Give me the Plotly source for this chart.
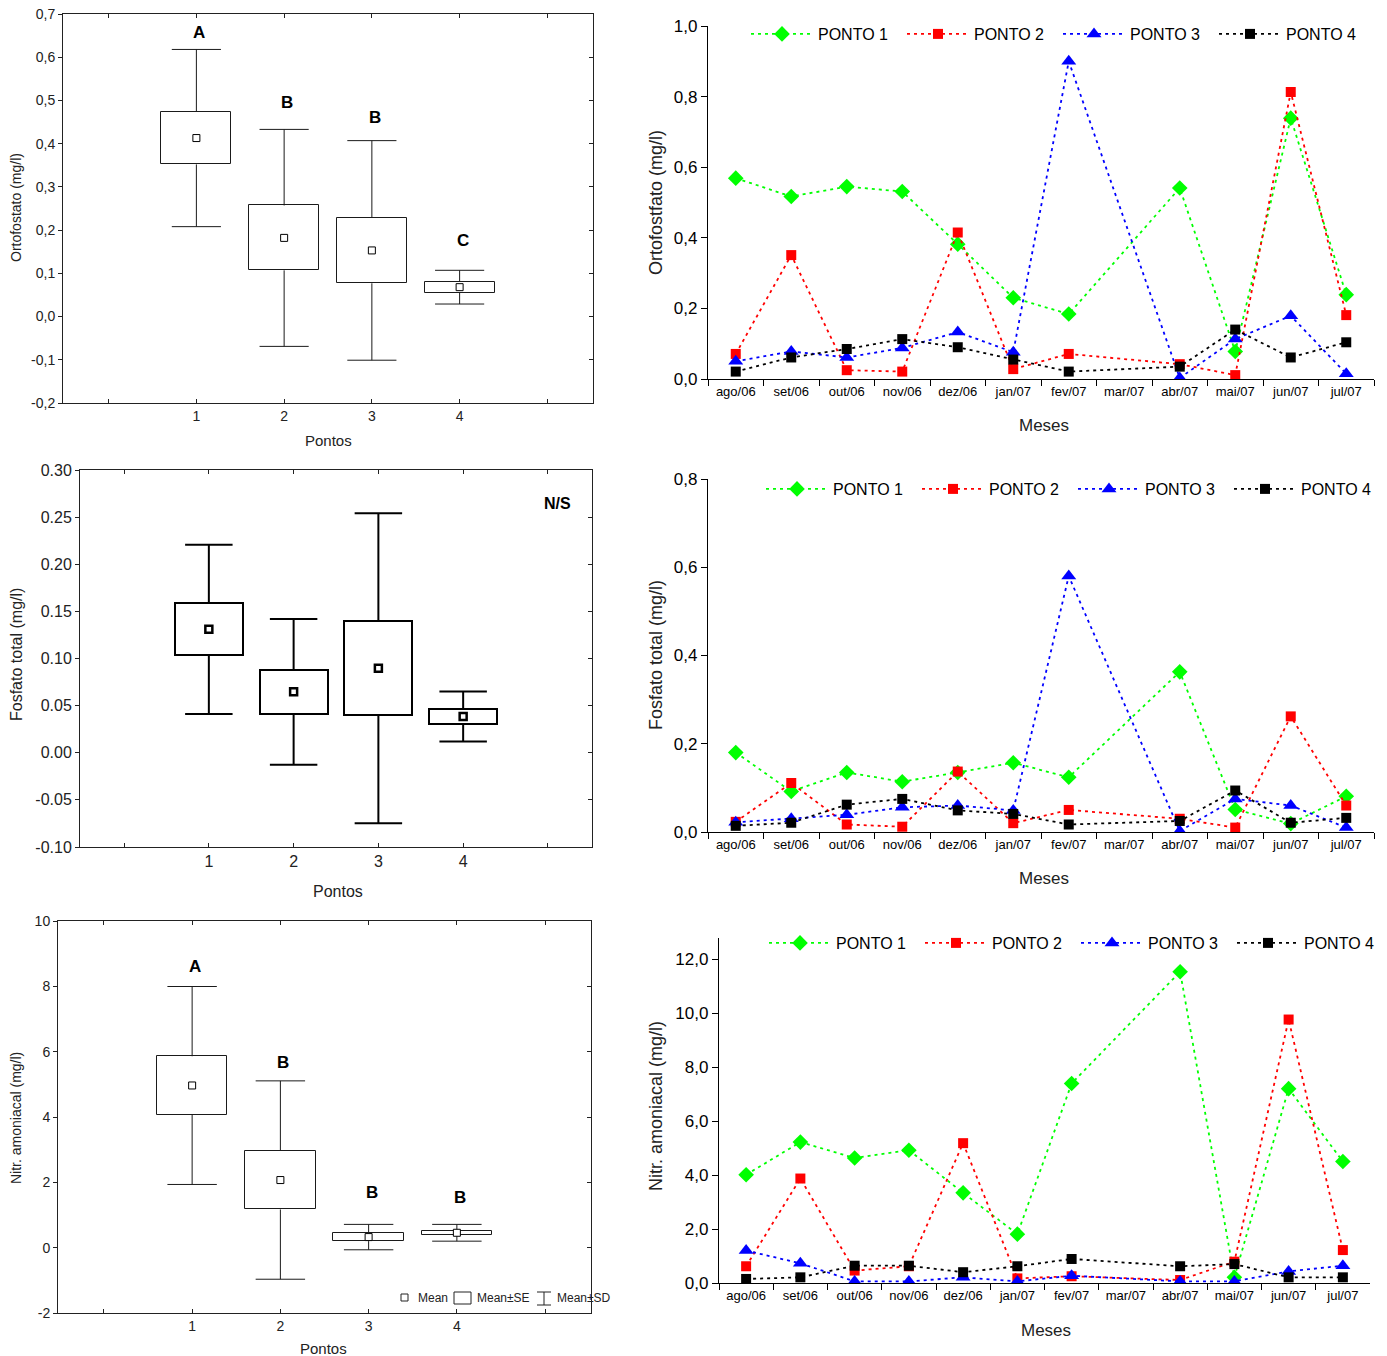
import plotly.graph_objects as go

W, H = 1387, 1356
FONT = "Liberation Sans, Arial, sans-serif"

# ---------------- data ----------------
pontos = [1, 2, 3, 4]

orto_mean = [0.413, 0.182, 0.153, 0.068]
orto_se = [0.061, 0.075, 0.076, 0.0125]
orto_sd = [0.205, 0.251, 0.254, 0.039]
orto_groups = ["A", "B", "B", "C"]

fos_mean = [0.131, 0.0647, 0.0897, 0.0385]
fos_se = [0.0275, 0.0233, 0.0497, 0.008]
fos_sd = [0.0898, 0.0773, 0.1645, 0.0266]

nit_mean = [4.965, 2.07, 0.324, 0.456]
nit_se = [0.895, 0.90, 0.124, 0.062]
nit_sd = [3.03, 3.036, 0.389, 0.257]
nit_groups = ["A", "B", "B", "B"]

meses = ["ago/06", "set/06", "out/06", "nov/06", "dez/06", "jan/07",
         "fev/07", "mar/07", "abr/07", "mai/07", "jun/07", "jul/07"]
series_names = ["PONTO 1", "PONTO 2", "PONTO 3", "PONTO 4"]

orto_p1 = [0.569, 0.517, 0.545, 0.531, 0.382, 0.230, 0.184, None, 0.541, 0.078, 0.739, 0.239]
orto_p2 = [0.071, 0.351, 0.025, 0.021, 0.415, 0.028, 0.071, None, 0.042, 0.011, 0.813, 0.181]
orto_p3 = [0.050, 0.078, 0.061, 0.088, 0.133, 0.076, 0.900, None, 0.003, 0.113, 0.179, 0.015]
orto_p4 = [0.021, 0.061, 0.085, 0.113, 0.090, 0.055, 0.021, None, 0.035, 0.140, 0.061, 0.104]

fos_p1 = [0.180, 0.092, 0.135, 0.114, 0.135, 0.157, 0.124, None, 0.363, 0.051, 0.019, 0.081]
fos_p2 = [0.023, 0.111, 0.017, 0.012, 0.137, 0.020, 0.050, None, 0.030, 0.010, 0.262, 0.060]
fos_p3 = [0.022, 0.030, 0.039, 0.056, 0.060, 0.049, 0.580, None, 0.002, 0.075, 0.060, 0.010]
fos_p4 = [0.014, 0.021, 0.062, 0.075, 0.049, 0.041, 0.017, None, 0.025, 0.094, 0.021, 0.032]

nit_p1 = [4.01, 5.22, 4.63, 4.92, 3.34, 1.81, 7.39, None, 11.53, 0.21, 7.20, 4.50]
nit_p2 = [0.62, 3.87, 0.46, 0.62, 5.18, 0.17, 0.25, None, 0.11, 0.79, 9.76, 1.22]
nit_p3 = [1.20, 0.73, 0.06, 0.06, 0.21, 0.06, 0.27, None, 0.06, 0.06, 0.43, 0.64]
nit_p4 = [0.15, 0.21, 0.64, 0.64, 0.40, 0.62, 0.89, None, 0.62, 0.70, 0.21, 0.21]

orto_yticks = [-0.2, -0.1, 0.0, 0.1, 0.2, 0.3, 0.4, 0.5, 0.6, 0.7]
orto_yticktext = ["-0,2", "-0,1", "0,0", "0,1", "0,2", "0,3", "0,4", "0,5", "0,6", "0,7"]
fos_yticks = [-0.10, -0.05, 0.0, 0.05, 0.10, 0.15, 0.20, 0.25, 0.30]
fos_yticktext = ["-0.10", "-0.05", "0.00", "0.05", "0.10", "0.15", "0.20", "0.25", "0.30"]
nit_yticks = [-2, 0, 2, 4, 6, 8, 10]
line1_yticks = [0.0, 0.2, 0.4, 0.6, 0.8, 1.0]
line1_yticktext = ["0,0", "0,2", "0,4", "0,6", "0,8", "1,0"]
line2_yticks = [0.0, 0.2, 0.4, 0.6, 0.8]
line2_yticktext = ["0,0", "0,2", "0,4", "0,6", "0,8"]
line3_yticks = [0, 2, 4, 6, 8, 10, 12]
line3_yticktext = ["0,0", "2,0", "4,0", "6,0", "8,0", "10,0", "12,0"]

# ---------------- helpers ----------------
def xdom(a, b):
    return [a / W, b / W]

def ydom(top, bottom):
    return [1 - bottom / H, 1 - top / H]

def px(x):
    return x / W

def py(y):
    return 1 - y / H

fig = go.Figure()

BOX_W = 0.8
CAP_HALF = 0.28


def add_box_panel(means, ses, sds, xa, ya, lw, mean_line, color):
    # whiskers (mean±SD) outside the SE box
    wx, wy, cx, cy = [], [], [], []
    for p, m, se, sd in zip(pontos, means, ses, sds):
        wx += [p, p, None, p, p, None]
        wy += [m + se, m + sd, None, m - se, m - sd, None]
        cx += [p - CAP_HALF, p + CAP_HALF, None, p - CAP_HALF, p + CAP_HALF, None]
        cy += [m + sd, m + sd, None, m - sd, m - sd, None]
    # mean±SE box
    fig.add_trace(go.Bar(
        x=pontos, y=[2 * s for s in ses], base=[m - s for m, s in zip(means, ses)],
        width=BOX_W, marker=dict(color="white", line=dict(color=color, width=lw)),
        xaxis=xa, yaxis=ya, showlegend=False, hoverinfo="skip"))
    fig.add_trace(go.Scatter(x=wx, y=wy, mode="lines", line=dict(color=color, width=lw),
                             xaxis=xa, yaxis=ya, showlegend=False, hoverinfo="skip"))
    fig.add_trace(go.Scatter(x=cx, y=cy, mode="lines", line=dict(color=color, width=lw),
                             xaxis=xa, yaxis=ya, showlegend=False, hoverinfo="skip"))
    fig.add_trace(go.Scatter(x=pontos, y=means, mode="markers",
                             marker=dict(symbol="square", size=7, color="white",
                                         line=dict(color="black", width=mean_line)),
                             xaxis=xa, yaxis=ya, showlegend=False))


add_box_panel(orto_mean, orto_se, orto_sd, "x", "y", 1, 1, "#1a1a1a")
add_box_panel(fos_mean, fos_se, fos_sd, "x2", "y2", 2, 2.5, "black")
add_box_panel(nit_mean, nit_se, nit_sd, "x3", "y3", 1, 1, "#1a1a1a")

# ---------------- monthly lines ----------------
styles = [
    dict(color="#00FF00", symbol="diamond", size=12),
    dict(color="#FF0000", symbol="square", size=10),
    dict(color="#0000FF", symbol="triangle-up", size=13),
    dict(color="#000000", symbol="square", size=10),
]


def add_line_panel(values, xa, ya, legend):
    for name, vals, st in zip(series_names, values, styles):
        fig.add_trace(go.Scatter(
            x=meses, y=vals, name=name, mode="lines+markers", connectgaps=True,
            line=dict(color=st["color"], width=1.8, dash="3px,4px"),
            marker=dict(symbol=st["symbol"], size=st["size"], color=st["color"]),
            xaxis=xa, yaxis=ya, legend=legend))


add_line_panel([orto_p1, orto_p2, orto_p3, orto_p4], "x4", "y4", "legend")
add_line_panel([fos_p1, fos_p2, fos_p3, fos_p4], "x5", "y5", "legend2")
add_line_panel([nit_p1, nit_p2, nit_p3, nit_p4], "x6", "y6", "legend3")

# ---------------- axes ----------------
def box_xaxis(dom, anchor, fsize):
    return dict(domain=dom, anchor=anchor, range=[-0.52, 5.52], automargin=False,
                tickvals=[0, 1, 2, 3, 4, 5], ticktext=["", "1", "2", "3", "4", ""],
                ticks="inside", ticklen=4, tickcolor="#222", mirror="ticks",
                showline=True, linecolor="#222", linewidth=1, showgrid=False,
                zeroline=False, tickangle=0,
                tickfont=dict(family=FONT, size=fsize, color="#222"))


def box_yaxis(dom, anchor, rng, tv, tt, fsize):
    return dict(domain=dom, anchor=anchor, range=rng, tickvals=tv, ticktext=tt,
                automargin=False, ticks="outside", ticklen=4, tickcolor="#222",
                mirror=True, showline=True, linecolor="#222", linewidth=1,
                showgrid=False, zeroline=False,
                tickfont=dict(family=FONT, size=fsize, color="#222"))


def box_yaxis_right(over, anchor, rng, tv):
    return dict(overlaying=over, anchor=anchor, side="right", range=rng, tickvals=tv,
                automargin=False, ticks="inside", ticklen=4, tickcolor="#222",
                showticklabels=False, showgrid=False, zeroline=False, showline=False)


def line_xaxis(dom, anchor):
    return dict(domain=dom, anchor=anchor, type="category", range=[-0.5, 11.5],
                automargin=False, tickson="boundaries", ticks="outside", ticklen=6,
                tickcolor="black", showline=True, linecolor="black", linewidth=1.3,
                showgrid=False, zeroline=False, tickangle=0,
                tickfont=dict(family=FONT, size=13, color="black"))


def line_yaxis(dom, anchor, rng, tv, tt):
    return dict(domain=dom, anchor=anchor, range=rng, tickvals=tv, ticktext=tt,
                automargin=False, ticks="outside", ticklen=6, tickcolor="black",
                showline=True, linecolor="black", linewidth=1.3, showgrid=False,
                zeroline=False, tickfont=dict(family=FONT, size=17, color="black"))


B1X, B1Y = xdom(63, 593), ydom(14, 403)
B2X, B2Y = xdom(80, 592), ydom(470, 847)
B3X, B3Y = xdom(58, 591), ydom(921, 1313)
L1X, L1Y = xdom(708, 1374), ydom(26, 379)
L2X, L2Y = xdom(708, 1374), ydom(479, 832)
L3X, L3Y = xdom(719, 1370), ydom(938, 1283)

fig.update_layout(
    xaxis=box_xaxis(B1X, "y", 14),
    yaxis=box_yaxis(B1Y, "x", [-0.2, 0.7], orto_yticks, orto_yticktext, 14),
    xaxis2=box_xaxis(B2X, "y2", 16),
    yaxis2=box_yaxis(B2Y, "x2", [-0.10, 0.30], fos_yticks, fos_yticktext, 16),
    xaxis3=box_xaxis(B3X, "y3", 14),
    yaxis3=box_yaxis(B3Y, "x3", [-2, 10], nit_yticks, [str(v) for v in nit_yticks], 14),
    yaxis7=box_yaxis_right("y", "x", [-0.2, 0.7], orto_yticks),
    yaxis8=box_yaxis_right("y2", "x2", [-0.10, 0.30], fos_yticks),
    yaxis9=box_yaxis_right("y3", "x3", [-2, 10], nit_yticks),
    xaxis4=line_xaxis(L1X, "y4"),
    yaxis4=line_yaxis(L1Y, "x4", [0, 1.0], line1_yticks, line1_yticktext),
    xaxis5=line_xaxis(L2X, "y5"),
    yaxis5=line_yaxis(L2Y, "x5", [0, 0.8], line2_yticks, line2_yticktext),
    xaxis6=line_xaxis(L3X, "y6"),
    yaxis6=line_yaxis(L3Y, "x6", [0, 12.78], line3_yticks, line3_yticktext),
)

# invisible anchors so the right-hand tick axes are drawn
for ya, xa, vals in [("y7", "x", orto_mean), ("y8", "x2", fos_mean), ("y9", "x3", nit_mean)]:
    fig.add_trace(go.Scatter(x=[pontos[0]], y=[vals[0]], mode="markers", opacity=0,
                             xaxis=xa, yaxis=ya, showlegend=False, hoverinfo="skip"))

# ---------------- legends ----------------
def legend_cfg(text_x, y):
    return dict(orientation="h", x=px(text_x - 72), y=py(y), xanchor="left",
                yanchor="middle", itemwidth=62, entrywidth=79, entrywidthmode="pixels",
                bgcolor="rgba(0,0,0,0)", borderwidth=0,
                font=dict(family=FONT, size=16, color="black"), itemclick=False)


fig.update_layout(legend=legend_cfg(818, 34), legend2=legend_cfg(833, 489),
                  legend3=legend_cfg(836, 943))

# ---------------- annotations ----------------
ann = []


def title(text, x, y, size, angle=0):
    ann.append(dict(text=text, x=px(x), y=py(y), xref="paper", yref="paper",
                    xanchor="center", yanchor="middle", showarrow=False,
                    textangle=angle, font=dict(family=FONT, size=size, color="#222")))


title("Ortofostato (mg/l)", 16, 208, 14, -90)
title("Pontos", 328, 440, 15)
title("Fosfato total (mg/l)", 16, 655, 16, -90)
title("Pontos", 338, 891, 16)
title("Nitr. amoniacal (mg/l)", 16, 1118, 14, -90)
title("Pontos", 323, 1348, 15)
title("Ortofostfato (mg/l)", 656, 203, 18, -90)
title("Meses", 1044, 425, 17)
title("Fosfato total (mg/l)", 656, 655, 18, -90)
title("Meses", 1044, 879, 17)
title("Nitr. amoniacal (mg/l)", 656, 1106, 18, -90)
title("Meses", 1046, 1330, 17)

# group letters above the SD caps
orto_letter_y = [0.658, 0.496, 0.461, 0.175]
nit_letter_y = [8.61, 5.67, 1.68, 1.54]
for p, g, yv in zip(pontos, orto_groups, orto_letter_y):
    ann.append(dict(text=f"<b>{g}</b>", x=p, y=yv, xref="x", yref="y", showarrow=False,
                    xanchor="center", yanchor="middle", xshift=3,
                    font=dict(family=FONT, size=17, color="black")))
for p, g, yv in zip(pontos, nit_groups, nit_letter_y):
    ann.append(dict(text=f"<b>{g}</b>", x=p, y=yv, xref="x3", yref="y3", showarrow=False,
                    xanchor="center", yanchor="middle", xshift=3,
                    font=dict(family=FONT, size=17, color="black")))
ann.append(dict(text="<b>N/S</b>", x=px(557), y=py(503), xref="paper", yref="paper",
                xanchor="center", yanchor="middle", showarrow=False,
                font=dict(family=FONT, size=16, color="black")))

# key for the mean / SE / SD symbols
for text, x in [("Mean", 416), ("Mean±SE", 475), ("Mean±SD", 555)]:
    ann.append(dict(text=text, x=px(x), y=py(1298), xref="paper", yref="paper",
                    xanchor="left", yanchor="middle", showarrow=False,
                    font=dict(family=FONT, size=12, color="#222")))

shapes = []
def pshape(kind, x0, y0, x1, y1, w=1):
    shapes.append(dict(type=kind, xref="paper", yref="paper", x0=px(x0), y0=py(y0),
                       x1=px(x1), y1=py(y1), line=dict(color="#222", width=w),
                       fillcolor="white" if kind == "rect" else None))

pshape("rect", 401, 1294, 408, 1301)
pshape("rect", 454, 1292, 471, 1304)
pshape("line", 544, 1292, 544, 1305)
pshape("line", 537, 1292, 551, 1292)
pshape("line", 537, 1305, 551, 1305)

fig.update_layout(
    annotations=ann, shapes=shapes,
    width=W, height=H, margin=dict(l=0, r=0, t=0, b=0, autoexpand=False),
    paper_bgcolor="white", plot_bgcolor="rgba(0,0,0,0)",
    font=dict(family=FONT, color="black"), bargap=0, showlegend=True,
)

fig.write_html("out.html")
